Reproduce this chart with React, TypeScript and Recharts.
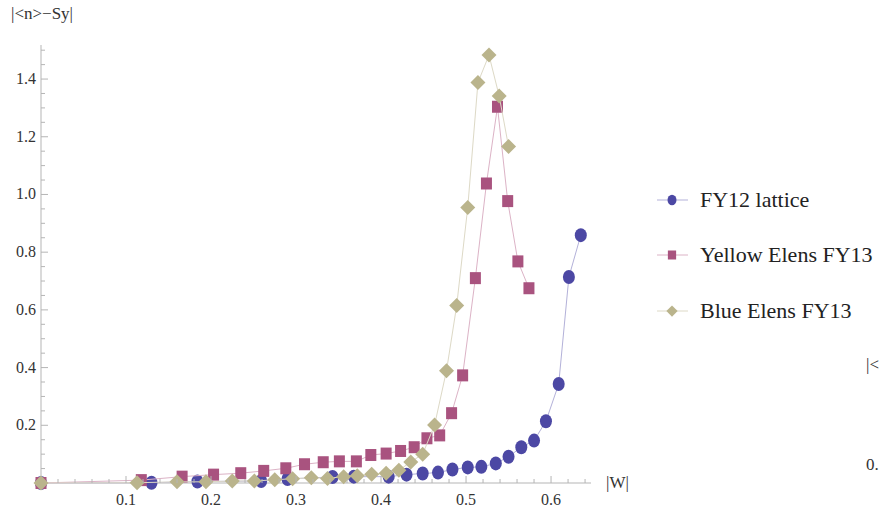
import { Legend, Scatter, ScatterChart, XAxis, YAxis } from "recharts";

const FONT = "Times New Roman";

// FY12 lattice
const latticeW = [0, 0.13, 0.184, 0.259, 0.29, 0.343, 0.368, 0.409, 0.43, 0.449, 0.467, 0.484, 0.502, 0.518, 0.535, 0.55, 0.565, 0.58, 0.594, 0.609, 0.621, 0.635];
const latticeY = [0, 0.001, 0.005, 0.007, 0.014, 0.021, 0.022, 0.022, 0.029, 0.033, 0.036, 0.047, 0.054, 0.056, 0.068, 0.091, 0.124, 0.147, 0.214, 0.343, 0.714, 0.859];

// Yellow Elens FY13
const yellowW = [0, 0.118, 0.166, 0.203, 0.235, 0.262, 0.288, 0.31, 0.332, 0.351, 0.371, 0.388, 0.406, 0.423, 0.439, 0.454, 0.469, 0.483, 0.496, 0.511, 0.524, 0.537, 0.549, 0.561, 0.574];
const yellowY = [0, 0.01, 0.022, 0.029, 0.034, 0.042, 0.051, 0.065, 0.072, 0.075, 0.075, 0.097, 0.102, 0.111, 0.124, 0.155, 0.165, 0.242, 0.373, 0.71, 1.038, 1.304, 0.977, 0.768, 0.675];

// Blue Elens FY13
const blueW = [0, 0.113, 0.16, 0.194, 0.225, 0.251, 0.275, 0.296, 0.318, 0.337, 0.356, 0.372, 0.389, 0.406, 0.421, 0.435, 0.449, 0.463, 0.477, 0.489, 0.502, 0.514, 0.527, 0.539, 0.55];
const blueY = [0, 0.001, 0.004, 0.004, 0.007, 0.007, 0.011, 0.015, 0.018, 0.016, 0.022, 0.025, 0.03, 0.034, 0.044, 0.073, 0.1, 0.201, 0.389, 0.615, 0.955, 1.388, 1.483, 1.341, 1.166];

const xMajor = [0.1, 0.2, 0.3, 0.4, 0.5, 0.6];
const xMinor = [0.02, 0.04, 0.06, 0.08, 0.12, 0.14, 0.16, 0.18, 0.22, 0.24, 0.26, 0.28, 0.32, 0.34, 0.36, 0.38, 0.42, 0.44, 0.46, 0.48, 0.52, 0.54, 0.56, 0.58, 0.62, 0.64];
const yMajor = [0.2, 0.4, 0.6, 0.8, 1.0, 1.2, 1.4];
const yMinor = [0.05, 0.1, 0.15, 0.25, 0.3, 0.35, 0.45, 0.5, 0.55, 0.65, 0.7, 0.75, 0.85, 0.9, 0.95, 1.05, 1.1, 1.15, 1.25, 1.3, 1.35, 1.45, 1.5];

const zip = (w: number[], y: number[]) => w.map((v, i) => ({ w: v, y: y[i] }));
const latticeData = zip(latticeW, latticeY);
const yellowData = zip(yellowW, yellowY);
const blueData = zip(blueW, blueY);

const AXIS_X = 41;
const AXIS_Y = 483;
const AXIS_COLOR = "#b5b5b5";

const SERIES = [
  { name: "FY12 lattice", fill: "#4c48a4", line: "#b3b1d9", shape: "circle" },
  { name: "Yellow Elens FY13", fill: "#a9537f", line: "#dcb3c6", shape: "square" },
  { name: "Blue Elens FY13", fill: "#bab48c", line: "#ddd9c6", shape: "diamond" },
];

function Marker({ kind, cx, cy, fill, s = 1 }: { kind: string; cx: number; cy: number; fill: string; s?: number }) {
  if (kind === "circle") return <ellipse cx={cx} cy={cy} rx={6 * s} ry={7 * s} fill={fill} />;
  if (kind === "square") return <rect x={cx - 5.5 * s} y={cy - 6 * s} width={11 * s} height={12 * s} fill={fill} />;
  const r = 7.5 * s;
  return <polygon points={`${cx},${cy - r} ${cx + r},${cy} ${cx},${cy + r} ${cx - r},${cy}`} fill={fill} />;
}

function XTick(props: any) {
  const { x, payload } = props;
  const major = xMajor.includes(payload.value);
  return (
    <g>
      <line x1={x} x2={x} y1={AXIS_Y} y2={AXIS_Y - (major ? 7 : 4)} stroke={AXIS_COLOR} />
      {major && (
        <text x={x} y={505} textAnchor="middle" style={{ fontFamily: FONT, fontSize: 16 }} fill="#333">
          {payload.value.toFixed(1)}
        </text>
      )}
    </g>
  );
}

function YTick(props: any) {
  const { y, payload } = props;
  const major = yMajor.includes(payload.value);
  return (
    <g>
      <line x1={AXIS_X} x2={AXIS_X + (major ? 7 : 4)} y1={y} y2={y} stroke={AXIS_COLOR} />
      {major && (
        <text x={36} y={y + 5} textAnchor="end" style={{ fontFamily: FONT, fontSize: 16 }} fill="#333">
          {payload.value.toFixed(1)}
        </text>
      )}
    </g>
  );
}

function LegendBox() {
  return (
    <div>
      {SERIES.map((s) => (
        <div key={s.name} style={{ display: "flex", alignItems: "center", height: 55.5 }}>
          <svg width={45} height={30} style={{ flexShrink: 0 }}>
            <line x1={2} x2={33} y1={15} y2={15} stroke={s.line} />
            <Marker kind={s.shape} cx={17} cy={15} fill={s.fill} s={0.75} />
          </svg>
          <span style={{ fontFamily: FONT, fontSize: 22, color: "#222", whiteSpace: "nowrap" }}>{s.name}</span>
        </div>
      ))}
    </div>
  );
}

const textStyle = { position: "absolute" as const, fontFamily: FONT, color: "#333", fontSize: 17, lineHeight: "18px" };

export default function App() {
  const datasets = [latticeData, yellowData, blueData];
  return (
    <div style={{ position: "absolute", left: 0, top: 0, width: 880, height: 512, background: "#fff", overflow: "hidden", fontFamily: FONT }}>
      <ScatterChart width={880} height={512} margin={{ top: 45, right: 289, bottom: 0, left: 0 }} style={{ fontFamily: FONT }}>
        <XAxis
          type="number"
          dataKey="w"
          domain={[0, 0.647]}
          ticks={[...xMinor, ...xMajor].sort((a, b) => a - b)}
          interval={0}
          height={29}
          tickLine={false}
          axisLine={{ stroke: AXIS_COLOR }}
          tick={(p: any) => <XTick {...p} />}
        />
        <YAxis
          type="number"
          dataKey="y"
          domain={[0, 1.518]}
          ticks={[...yMinor, ...yMajor].sort((a, b) => a - b)}
          interval={0}
          width={41}
          tickLine={false}
          axisLine={{ stroke: AXIS_COLOR }}
          tick={(p: any) => <YTick {...p} />}
        />
        {SERIES.map((s, i) => (
          <Scatter
            key={s.name}
            name={s.name}
            data={datasets[i]}
            fill={s.fill}
            line={{ stroke: s.line, strokeWidth: 1 }}
            lineType="joint"
            isAnimationActive={false}
            shape={(p: any) => <Marker kind={s.shape} cx={p.cx} cy={p.cy} fill={s.fill} />}
          />
        ))}
        <Legend
          layout="vertical"
          align="center"
          verticalAlign="middle"
          wrapperStyle={{ left: 655, top: 172, width: 225 }}
          content={() => <LegendBox />}
        />
      </ScatterChart>
      <div style={{ ...textStyle, left: 11, top: 5 }}>|&lt;n&gt;−Sy|</div>
      <div style={{ ...textStyle, left: 606, top: 474 }}>|W|</div>
      <div style={{ ...textStyle, left: 866, top: 356 }}>|&lt;</div>
      <div style={{ ...textStyle, left: 866, top: 456 }}>0.</div>
    </div>
  );
}
